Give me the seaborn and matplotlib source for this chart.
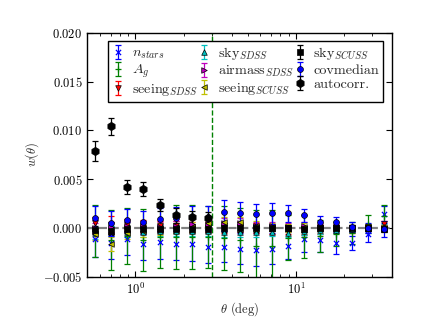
import numpy as np
import pandas as pd
import seaborn as sns
import matplotlib.pyplot as plt

# angular bins (deg)
theta = [0.562, 0.708, 0.891, 1.122, 1.413, 1.778, 2.239, 2.818, 3.548, 4.467,
         5.623, 7.079, 8.913, 11.22, 14.13, 17.78, 22.39, 28.18, 35.48]

nstars = [-0.0011, -0.0015, -0.0011, -0.0016, -0.0014, -0.0016, -0.0016, -0.0019, -0.0019, -0.0021,
          -0.0022, -0.0021, -0.0018, -0.0011, -0.0012, -0.0015, -0.0015, -0.0006, 0.0014]
nstars_err = [0.0019, 0.0017, 0.0017, 0.0017, 0.0018, 0.0017, 0.0018, 0.0017, 0.0016, 0.0016,
              0.0017, 0.0016, 0.0014, 0.0013, 0.0012, 0.0011, 0.0007, 0.0008, 0.0009]

ag = [-0.0003, -0.0012, -0.0008, -0.0012, -0.0009, -0.0009, -0.0009, -0.0009, -0.0010, -0.0012,
      -0.0018, -0.0018, -0.0010, -0.0009, -0.0008, -0.0006, -0.0005, 0.0004, 0.0012]
ag_err = [0.0027, 0.0031, 0.0029, 0.0032, 0.0032, 0.0033, 0.0033, 0.0032, 0.0033, 0.0033,
          0.0037, 0.0037, 0.0023, 0.0022, 0.0016, 0.0012, 0.0011, 0.0009, 0.0012]

seeing_sdss = [0.0005, 0.0003, 0.0003, 0.0002, 0.0002, 0.0002, 0.0001, 0.0001, 0.0000, 0.0001,
               0.0000, -0.0001, -0.0002, -0.0003, -0.0002, -0.0002, -0.0002, 0.0001, 0.0004]
seeing_sdss_err = [0.0006, 0.0009, 0.0006, 0.0006, 0.0005, 0.0005, 0.0005, 0.0005, 0.0005, 0.0005,
                   0.0005, 0.0005, 0.0004, 0.0004, 0.0004, 0.0003, 0.0003, 0.0003, 0.0003]

sky_sdss = [-0.0005, -0.0003, -0.0004, -0.0004, -0.0003, -0.0003, -0.0003, -0.0003, -0.0004, -0.0004,
            -0.0004, -0.0004, -0.0005, -0.0003, -0.0002, -0.0002, -0.0001, 0.0000, 0.0001]
sky_sdss_err = [0.0006, 0.0005, 0.0005, 0.0005, 0.0005, 0.0005, 0.0005, 0.0005, 0.0005, 0.0005,
                0.0005, 0.0004, 0.0004, 0.0004, 0.0004, 0.0003, 0.0003, 0.0003, 0.0003]

airmass_sdss = [0.0000, 0.0001, 0.0002, 0.0002, 0.0001, 0.0002, 0.0004, 0.0004, 0.0005, 0.0005,
                0.0002, 0.0002, 0.0001, 0.0002, 0.0001, 0.0001, 0.0000, 0.0000, 0.0000]
airmass_sdss_err = [0.0005, 0.0005, 0.0005, 0.0005, 0.0005, 0.0005, 0.0005, 0.0005, 0.0005, 0.0005,
                    0.0004, 0.0004, 0.0004, 0.0004, 0.0003, 0.0003, 0.0003, 0.0003, 0.0003]

seeing_scuss = [-0.0006, -0.0016, -0.0005, -0.0003, -0.0001, 0.0000, 0.0001, 0.0005, 0.0006, 0.0006,
                0.0002, 0.0001, 0.0000, 0.0001, 0.0000, 0.0000, 0.0000, 0.0000, 0.0000]
seeing_scuss_err = [0.0006, 0.0007, 0.0006, 0.0006, 0.0006, 0.0005, 0.0005, 0.0005, 0.0005, 0.0005,
                    0.0005, 0.0004, 0.0004, 0.0004, 0.0003, 0.0003, 0.0003, 0.0003, 0.0003]

sky_scuss = [-0.0002, -0.0003, -0.0001, -0.0001, -0.0001, -0.0001, -0.0001, -0.0001, 0.0000, 0.0000,
             0.0000, 0.0000, 0.0000, -0.0001, 0.0000, 0.0000, 0.0000, 0.0000, -0.0001]
sky_scuss_err = [0.0004, 0.0004, 0.0004, 0.0004, 0.0004, 0.0004, 0.0004, 0.0004, 0.0004, 0.0004,
                 0.0004, 0.0003, 0.0003, 0.0003, 0.0003, 0.0003, 0.0003, 0.0003, 0.0003]

covmedian = [0.0010, 0.0005, 0.0008, 0.0006, 0.0009, 0.0010, 0.0011, 0.0011, 0.0016, 0.0015,
             0.0014, 0.0015, 0.0015, 0.0013, 0.0006, 0.0006, 0.0001, 0.0000, -0.0001]
covmedian_err = [0.0013, 0.0013, 0.0012, 0.0012, 0.0012, 0.0012, 0.0012, 0.0012, 0.0013, 0.0012,
                 0.0011, 0.0011, 0.0009, 0.0007, 0.0006, 0.0005, 0.0005, 0.0005, 0.0008]

theta_auto = theta[:8]
autocorr = [0.0079, 0.0104, 0.0042, 0.0040, 0.0024, 0.0013, 0.0011, 0.0010]
autocorr_err = [0.0010, 0.0009, 0.0007, 0.0007, 0.0006, 0.0008, 0.0007, 0.0007]

theta_cut = 3.0

sns.set_style("ticks")
plt.rcParams.update({
    "font.family": "serif",
    "font.serif": ["cmr10"],
    "mathtext.fontset": "cm",
    "axes.formatter.use_mathtext": True,
    "font.size": 9,
    "axes.edgecolor": "black",
    "axes.linewidth": 1.0,
    "xtick.direction": "in",
    "ytick.direction": "in",
    "xtick.top": True,
    "ytick.right": True,
    "xtick.major.size": 4,
    "ytick.major.size": 4,
    "xtick.minor.size": 2,
    "ytick.minor.size": 2,
    "xtick.color": "black",
    "ytick.color": "black",
})

series = [
    (r"$n_{stars}$", theta, nstars, nstars_err, "b", "x", 14),
    (r"$A_g$", theta, ag, ag_err, "g", "+", 16),
    (r"seeing$_{SDSS}$", theta, seeing_sdss, seeing_sdss_err, "r", "v", 16),
    (r"sky$_{SDSS}$", theta, sky_sdss, sky_sdss_err, "c", "^", 16),
    (r"airmass$_{SDSS}$", theta, airmass_sdss, airmass_sdss_err, "m", ">", 16),
    (r"seeing$_{SCUSS}$", theta, seeing_scuss, seeing_scuss_err, "y", "<", 16),
    (r"sky$_{SCUSS}$", theta, sky_scuss, sky_scuss_err, "k", "s", 20),
    ("covmedian", theta, covmedian, covmedian_err, "b", "o", 18),
    ("autocorr.", theta_auto, autocorr, autocorr_err, "k", "h", 36),
]

fig = plt.figure(figsize=(4.36, 3.27), dpi=100)
ax = fig.add_axes([0.2, 0.153, 0.7, 0.747])

ax.axhline(0, color="gray", ls="--", lw=1.6, zorder=1)
ax.axvline(theta_cut, color="g", ls="--", lw=1, zorder=1)

handles, labels = [], []
for i, (lab, x, y, e, col, mk, s) in enumerate(series):
    eb = ax.errorbar(x, y, yerr=e, fmt="none", ecolor=col, elinewidth=0.9,
                     capsize=2.5, capthick=0.9, zorder=2 + 0.1 * i)
    df = pd.DataFrame({"theta": x, "w": y})
    lw = 0.9 if mk in ("x", "+") else 0.5
    ec = col if mk in ("x", "+") else "k"
    sns.scatterplot(data=df, x="theta", y="w", marker=mk, color=col, s=s,
                    edgecolor=ec, linewidth=lw, ax=ax, zorder=4 + 0.1 * i)
    sc = ax.collections[-1]
    handles.append((eb, sc))
    labels.append(lab)

ax.set_xscale("log")
ax.set_xlim(0.5, 40)
ax.set_ylim(-0.005, 0.020)
ax.set_yticks(np.arange(-0.005, 0.0201, 0.005))
ax.set_xlabel(r"$\theta$ (deg)", labelpad=2)
ax.set_ylabel(r"$w(\theta)$")
ax.yaxis.set_label_coords(-0.15, 0.5)

leg = ax.legend(handles, labels, loc="upper left", ncol=3, numpoints=1,
                scatterpoints=1, scatteryoffsets=[0.5], fancybox=False,
                framealpha=1, edgecolor="black", fontsize=10.2,
                mode="expand", bbox_to_anchor=(0.069, 0.697, 0.901, 0.27),
                columnspacing=0.1, handlelength=0.8, handletextpad=0.55,
                labelspacing=0.12, borderpad=0.3, borderaxespad=0.0)
leg.get_frame().set_linewidth(1.0)

fig.savefig("out.png", dpi=100)
